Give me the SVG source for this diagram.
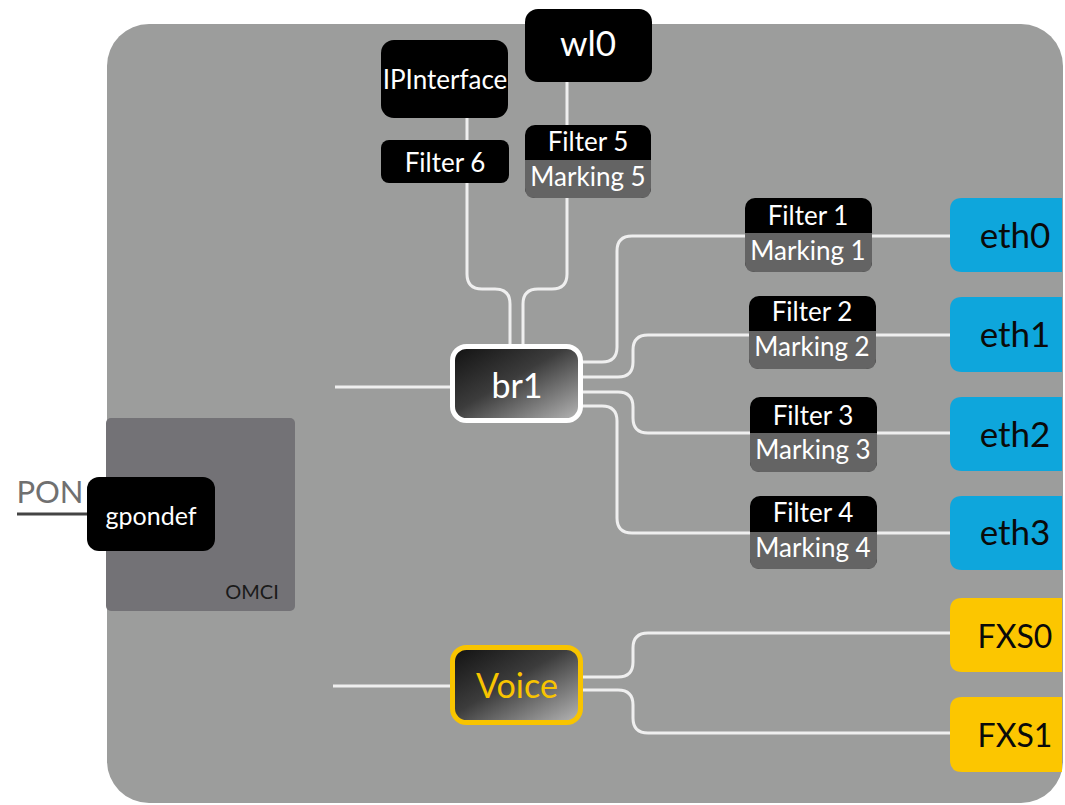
<svg xmlns="http://www.w3.org/2000/svg" width="1065" height="805" viewBox="0 0 1065 805">
<defs>
<linearGradient id="dark" x1="0" y1="0" x2="1" y2="1">
<stop offset="0" stop-color="#111"/>
<stop offset="0.45" stop-color="#3c3c3c"/>
<stop offset="1" stop-color="#b8b8b8"/>
</linearGradient>
<style>
text{font-family:Lato,"Open Sans",sans-serif;text-anchor:middle}
.wire{fill:none;stroke:#efefef;stroke-width:3}
.blk{fill:#000}
.mk{fill:#646464}
.wt{fill:#fff}
.eth{fill:#0ea6dc}
.fxs{fill:#fcc600}
.dk{fill:#0a0a0a}
.f{font-size:26px}
</style>
</defs>
<rect width="1065" height="805" fill="#fff"/>
<rect id="device" x="107" y="24" width="956" height="779" rx="42" fill="#9c9d9c"/>
<g id="omci"><rect x="106" y="418" width="189" height="193" rx="5" fill="#737276"/><text x="252" y="599" font-size="20" fill="#1a1a1a">OMCI</text></g>
<g id="connectors">
<path class="wire" d="M467,118 V274 Q467,289 482,289 H495 Q510,289 510,304 V346"/>
<path class="wire" d="M567,82 V274 Q567,289 552,289 H538 Q523,289 523,304 V346"/>
<path class="wire" d="M580,362 H602 Q617,362 617,347 V251 Q617,236 632,236 H952"/>
<path class="wire" d="M580,377 H618 Q633,377 633,362 V350 Q633,335 648,335 H952"/>
<path class="wire" d="M580,392 H618 Q633,392 633,407 V418 Q633,433 648,433 H952"/>
<path class="wire" d="M580,406 H602 Q617,406 617,421 V518 Q617,533 632,533 H952"/>
<path class="wire" d="M335,387 H452"/>
<path class="wire" d="M333,686 H452"/>
<path class="wire" d="M580,677 H618 Q633,677 633,662 V648 Q633,633 648,633 H952"/>
<path class="wire" d="M580,690 H618 Q633,690 633,705 V718 Q633,733 648,733 H952"/>
<path d="M17,514 H92" fill="none" stroke="#444" stroke-width="3"/>
</g>
<g id="pon"><text x="50" y="503" font-size="31" fill="#707070">PON</text></g>
<g id="gpondef"><rect x="87" y="477" width="128" height="74" rx="12" class="blk"/><text x="151" y="525" font-size="25" class="wt">gpondef</text></g>
<g id="ipinterface"><rect x="381" y="40" width="127" height="78" rx="13" class="blk"/><text x="445" y="89" class="wt f">IPInterface</text></g>
<g id="wl0"><rect x="525" y="9" width="127" height="73" rx="13" class="blk"/><text x="588" y="56" font-size="35" class="wt">wl0</text></g>
<g id="filter6"><rect x="381" y="140" width="128" height="43" rx="8" class="blk"/><text x="445" y="172" class="wt f">Filter 6</text></g>
<g id="filter5"><rect x="525" y="125" width="126" height="73" rx="10" class="blk"/><path d="M525,160 H651 V188 Q651,198 641,198 H535 Q525,198 525,188 Z" class="mk"/><text x="588" y="151" class="wt f">Filter 5</text><text x="588" y="186" class="wt f">Marking 5</text></g>
<g id="br1"><rect x="452.5" y="346.5" width="128" height="74" rx="14" fill="url(#dark)" stroke="#fff" stroke-width="5"/><text x="517" y="398" font-size="34" class="wt">br1</text></g>
<g id="filter1"><rect x="745" y="198" width="127" height="74" rx="10" class="blk"/><path d="M745,233 H872 V262 Q872,272 862,272 H755 Q745,272 745,262 Z" class="mk"/><text x="808" y="225" class="wt f">Filter 1</text><text x="808" y="260" class="wt f">Marking 1</text></g>
<g id="filter2"><rect x="749" y="296" width="127" height="73" rx="10" class="blk"/><path d="M749,331 H876 V359 Q876,369 866,369 H759 Q749,369 749,359 Z" class="mk"/><text x="812" y="321" class="wt f">Filter 2</text><text x="812" y="356" class="wt f">Marking 2</text></g>
<g id="filter3"><rect x="750" y="397" width="127" height="75" rx="10" class="blk"/><path d="M750,433 H877 V462 Q877,472 867,472 H760 Q750,472 750,462 Z" class="mk"/><text x="813" y="425" class="wt f">Filter 3</text><text x="813" y="459" class="wt f">Marking 3</text></g>
<g id="filter4"><rect x="750" y="496" width="127" height="73" rx="10" class="blk"/><path d="M750,532 H877 V559 Q877,569 867,569 H760 Q750,569 750,559 Z" class="mk"/><text x="813" y="522" class="wt f">Filter 4</text><text x="813" y="557" class="wt f">Marking 4</text></g>
<g id="eth0"><path d="M962,198 H1062 V272 H962 Q950,272 950,260 V210 Q950,198 962,198 Z" class="eth"/><text x="1015" y="248" font-size="35" class="dk">eth0</text></g>
<g id="eth1"><path d="M962,297 H1062 V372 H962 Q950,372 950,360 V309 Q950,297 962,297 Z" class="eth"/><text x="1015" y="347" font-size="35" class="dk">eth1</text></g>
<g id="eth2"><path d="M962,397 H1062 V471 H962 Q950,471 950,459 V409 Q950,397 962,397 Z" class="eth"/><text x="1015" y="447" font-size="35" class="dk">eth2</text></g>
<g id="eth3"><path d="M962,496 H1062 V570 H962 Q950,570 950,558 V508 Q950,496 962,496 Z" class="eth"/><text x="1015" y="545" font-size="35" class="dk">eth3</text></g>
<g id="voice"><rect x="452.5" y="647.5" width="128" height="75" rx="14" fill="url(#dark)" stroke="#f8c400" stroke-width="5"/><text x="517" y="698" font-size="34" fill="#f8c400">Voice</text></g>
<g id="fxs0"><path d="M962,598 H1062 V672 H962 Q950,672 950,660 V610 Q950,598 962,598 Z" class="fxs"/><text x="1015" y="648" font-size="32" class="dk">FXS0</text></g>
<g id="fxs1"><path d="M962,697 H1062 V772 H962 Q950,772 950,760 V709 Q950,697 962,697 Z" class="fxs"/><text x="1015" y="747" font-size="32" class="dk">FXS1</text></g>
</svg>
